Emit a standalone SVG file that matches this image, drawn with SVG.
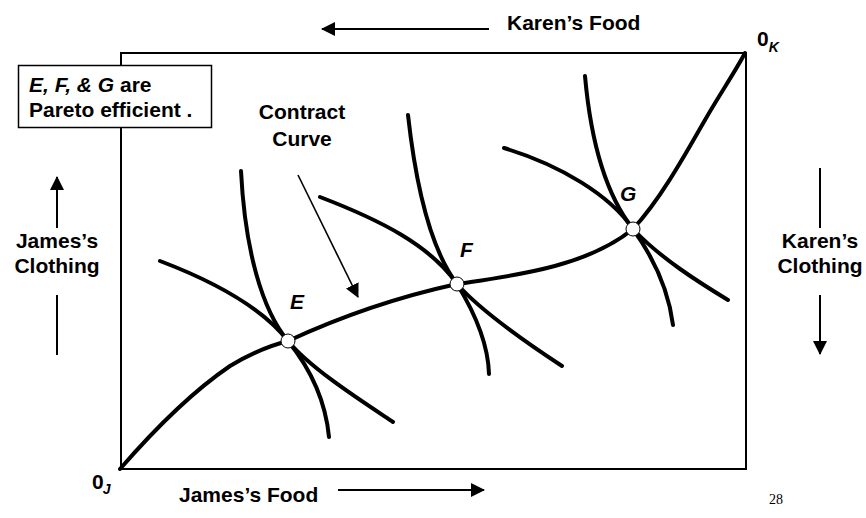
<svg xmlns="http://www.w3.org/2000/svg" width="866" height="518" viewBox="0 0 866 518">
<defs>
<style>
.t{font-family:"Liberation Sans",Arial,sans-serif;font-weight:bold;font-size:21px;fill:#000}
.i{font-style:italic}
.ic{fill:none;stroke:#000;stroke-width:4;stroke-linecap:round}
.ax{fill:none;stroke:#000;stroke-width:2}
.pt{fill:#fff;stroke:#000;stroke-width:1}
</style>
<marker id="ah2" markerWidth="14" markerHeight="14" refX="13" refY="7" orient="auto" markerUnits="userSpaceOnUse" viewBox="0 0 14 14">
<path d="M0,0 L14,7 L0,14 Z" fill="#000"/>
</marker>
</defs>
<rect width="866" height="518" fill="#fff"/>

<g id="box">
<rect x="121" y="53" width="625" height="416" class="ax"/>
</g>

<g id="connectors">
<path d="M489,29 L322,29" class="ax" marker-end="url(#ah2)"/>
<path d="M338,490 L484,490" class="ax" marker-end="url(#ah2)"/>
<path d="M57,228 L57,177" class="ax" marker-end="url(#ah2)"/>
<path d="M57,295 L57,355" class="ax"/>
<path d="M820,168 L820,228" class="ax"/>
<path d="M820,295 L820,354" class="ax" marker-end="url(#ah2)"/>
<path d="M298,175 L358,297" fill="none" stroke="#000" stroke-width="1.6" marker-end="url(#ah2)"/>
</g>

<g id="contract-curve">
<path class="ic" d="M120,469 Q180,400 230,366 Q260,348 288,341 Q370,303 457,284 C510,276 585,268 633,229 C660,200 685,155 705,120 C718,97 735,72 745,53"/>
</g>

<g id="curves-E">
<path class="ic" d="M241,171 C245,250 262,310 288,341 C310,368 360,400 393,422"/>
<path class="ic" d="M160,261 C210,280 260,305 288,341 C305,362 325,395 329,437"/>
</g>
<g id="curves-F">
<path class="ic" d="M408,115 C418,205 435,255 457,284 C480,310 530,345 562,366"/>
<path class="ic" d="M320,197 C380,220 430,245 457,284 C470,305 488,340 489,374"/>
</g>
<g id="curves-G">
<path class="ic" d="M585,76 C592,155 610,200 633,229 C660,258 700,283 728,300"/>
<path class="ic" d="M504,148 C560,165 610,195 633,229 C648,250 668,285 673,325"/>
</g>

<g id="point-E"><circle cx="288" cy="341" r="7" class="pt"/><text x="290" y="309" class="t i">E</text></g>
<g id="point-F"><circle cx="457" cy="284" r="7" class="pt"/><text x="460" y="257" class="t i">F</text></g>
<g id="point-G"><circle cx="633" cy="229" r="7" class="pt"/><text x="620" y="201" class="t i">G</text></g>

<g id="note">
<rect x="18.5" y="65.5" width="193" height="62" fill="#fff" stroke="#000" stroke-width="1.5"/>
<text x="29" y="92" class="t"><tspan class="i">E, F, &amp; G</tspan> are</text>
<text x="29" y="117" class="t">Pareto efficient .</text>
</g>

<g id="contract-label">
<text x="302" y="119" class="t" text-anchor="middle">Contract</text>
<text x="302" y="146" class="t" text-anchor="middle">Curve</text>
</g>

<g id="labels">
<text x="507" y="30" class="t">Karen’s Food</text>
<text x="179" y="502" class="t">James’s Food</text>
<text x="57" y="248" class="t" text-anchor="middle">James’s</text>
<text x="57" y="273" class="t" text-anchor="middle">Clothing</text>
<text x="820" y="248" class="t" text-anchor="middle">Karen’s</text>
<text x="820" y="273" class="t" text-anchor="middle">Clothing</text>
<text x="757" y="46" class="t">0<tspan class="i" font-size="14" dy="6">K</tspan></text>
<text x="92" y="489" class="t">0<tspan class="i" font-size="14" dy="5" dx="-1">J</tspan></text>
<text x="769" y="504" font-family="'Liberation Serif','Times New Roman',serif" font-size="14">28</text>
</g>
</svg>
